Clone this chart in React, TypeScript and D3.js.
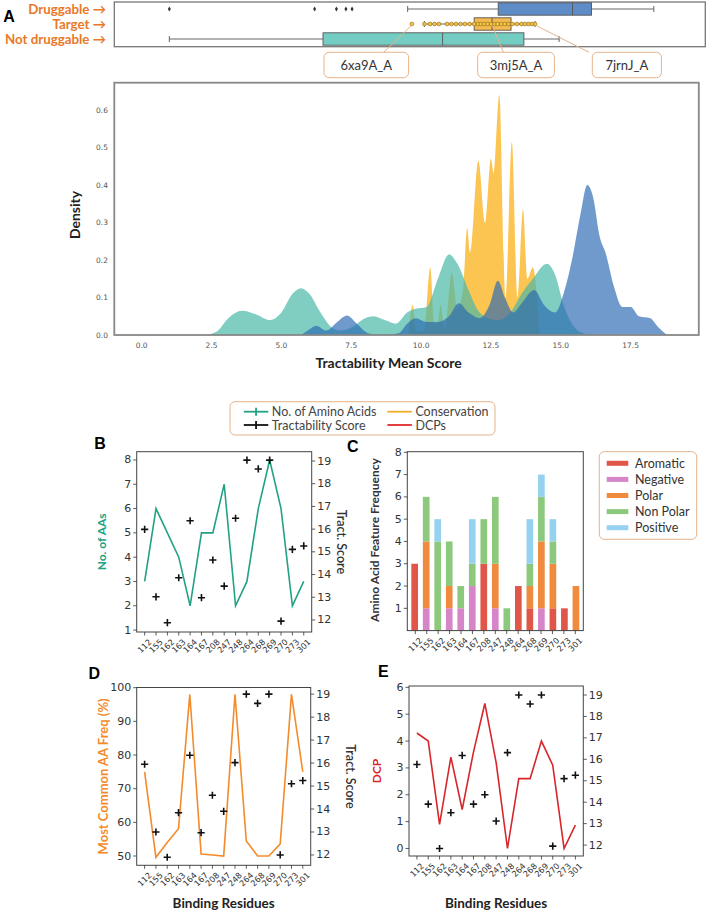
import React from 'react';
import * as d3 from 'd3';

// ---------------- DATA ----------------
const residues = ['112', '155', '162', '163', '164', '167', '208', '247', '248', '264', '268', '269', '270', '273', '301'];
const numAminoAcids = [3, 6, 5, 4, 2, 5, 5, 7, 2, 3, 6, 8, 6, 2, 3];
const tractScoreB = [15.99, 13.02, 11.88, 13.86, 16.37, 12.98, 14.64, 13.49, 16.48, 19.04, 18.65, 19.04, 11.95, 15.11, 15.26];
const mostCommonAAFreq = [75, 49.6, 54, 58.1, 98, 50.6, 50.3, 50, 98, 54.5, 50, 50, 53.6, 98, 75];
const tractScoreD = [15.95, 13.0, 11.9, 13.84, 16.34, 12.97, 14.6, 13.9, 16.02, 19.0, 18.6, 19.0, 12.0, 15.1, 15.24];
const dcpValues = [4.3, 4.0, 0.9, 3.4, 1.45, 3.6, 5.4, 3.2, 0, 2.6, 2.6, 4.0, 3.1, 0, 0.87];
const tractScoreE = [15.76, 13.91, 11.84, 13.51, 16.18, 13.91, 14.35, 13.12, 16.31, 19.0, 18.58, 19.0, 11.95, 15.1, 15.26];

const aromatic = [3, 0, 0, 0, 0, 0, 3, 0, 0, 2, 1, 0, 1, 1, 0];
const negative = [0, 1, 0, 1, 1, 2, 0, 1, 0, 0, 0, 1, 0, 0, 0];
const polar = [0, 3, 0, 1, 0, 0, 0, 2, 0, 0, 1, 3, 2, 0, 2];
const nonPolar = [0, 2, 4, 2, 1, 1, 2, 3, 1, 0, 1, 2, 1, 0, 0];
const positive = [0, 0, 1, 0, 0, 2, 0, 0, 0, 0, 2, 1, 1, 0, 0];
const featureNames = ['Aromatic', 'Negative', 'Polar', 'Non Polar', 'Positive'];
const featureColors = ['#e0574a', '#d585c8', '#f08a3c', '#8cc97c', '#96d2f0'];

// box plot: [whiskerLow, q1, median, q3, whiskerHigh]
const druggableBox = [9.52, 12.76, 15.42, 16.1, 18.33];
const druggableOutliers = [0.99, 6.19, 6.97, 7.31, 7.53];
const targetBox = [10.12, 11.9, 12.54, 13.22, 14.08];
const notDruggableBox = [0.99, 6.49, 10.77, 13.68, 14.94];
const targetPoints = [9.67, 10.12, 10.32, 10.48, 10.64, 10.93, 11.09, 11.25, 11.41, 11.57, 11.74, 11.9, 12.03, 12.14, 12.25, 12.38, 12.51, 12.63, 12.74, 12.87, 13.0, 13.13, 13.27, 13.43, 13.59, 13.71, 13.84, 13.97, 14.08];
const calloutNames = ['6xa9A_A', '3mj5A_A', '7jrnJ_A'];
const calloutValues = [9.67, 12.54, 14.08];

// densities [score, density]
const kdeNotDruggable: [number, number][] = [[2.3, 0], [2.7, 0.01], [3.1, 0.045], [3.6, 0.065], [4.1, 0.055], [4.6, 0.04], [5.0, 0.06], [5.4, 0.11], [5.7, 0.125], [6.0, 0.11], [6.4, 0.06], [6.8, 0.02], [7.1, 0.012], [7.5, 0.02], [8.0, 0.045], [8.3, 0.05], [8.7, 0.04], [9.1, 0.03], [9.5, 0.06], [9.8, 0.07], [10.2, 0.075], [10.6, 0.15], [11.0, 0.215], [11.3, 0.19], [11.7, 0.12], [12.0, 0.07], [12.4, 0.045], [12.8, 0.04], [13.2, 0.06], [13.6, 0.11], [14.0, 0.15], [14.5, 0.19], [14.8, 0.16], [15.1, 0.08], [15.4, 0.03], [15.8, 0.005], [16.2, 0]];
const kdeTarget: [number, number][] = [[9.55, 0], [9.7, 0.08], [9.82, 0.01], [10.1, 0.01], [10.33, 0.18], [10.47, 0.03], [10.6, 0.03], [10.7, 0.08], [10.85, 0.02], [11.1, 0.165], [11.3, 0.07], [11.5, 0.12], [11.65, 0.285], [11.75, 0.22], [12.05, 0.465], [12.3, 0.3], [12.5, 0.47], [12.6, 0.43], [12.8, 0.64], [13.02, 0.1], [13.25, 0.515], [13.45, 0.1], [13.65, 0.335], [13.8, 0.15], [14.0, 0.18], [14.25, 0]];
const kdeDruggable: [number, number][] = [[5.7, 0], [6.0, 0.015], [6.25, 0.025], [6.6, 0.012], [7.0, 0.035], [7.35, 0.052], [7.7, 0.03], [8.1, 0.005], [8.5, 0], [9.2, 0.005], [9.5, 0.03], [9.8, 0.045], [10.2, 0.035], [10.6, 0.035], [11.0, 0.05], [11.35, 0.085], [11.7, 0.06], [12.1, 0.045], [12.45, 0.08], [12.75, 0.145], [13.0, 0.1], [13.3, 0.06], [13.6, 0.085], [14.05, 0.12], [14.4, 0.08], [14.8, 0.06], [15.1, 0.11], [15.4, 0.2], [15.7, 0.32], [15.95, 0.4], [16.15, 0.37], [16.4, 0.26], [16.6, 0.22], [16.9, 0.13], [17.2, 0.075], [17.5, 0.075], [17.8, 0.05], [18.2, 0.045], [18.5, 0.02], [18.8, 0]];
const densityXTicks = [0, 2.5, 5, 7.5, 10, 12.5, 15, 17.5];
const densityYTicks = [0, 0.1, 0.2, 0.3, 0.4, 0.5, 0.6];

// ---------------- STYLE ----------------
const TITLE_FONT = "Lato, 'Open Sans', sans-serif";
const TICK_FONT = "'DejaVu Sans', sans-serif";
const GREEN = '#22a283';
const ORANGE = '#f38b2c';
const RED = '#d8262b';
const CALLOUT = '#e6b38a';

type PanelProps = {
  x0: number; x1: number; y0: number; y1: number;
  leftDomain: [number, number]; rightDomain: [number, number];
  leftTicks: number[]; rightTicks: number[];
  line: number[]; lineColor: string; crosses: number[];
  leftLabel: string; leftLabelSize: number; rightLabel: string | null;
  labelX: number; rightLabelX: number; xTitle: string | null;
};

function Cross({ x, y, s = 3.6 }: { x: number; y: number; s?: number }) {
  return <path d={`M${x - s},${y}H${x + s}M${x},${y - s}V${y + s}`} stroke="#111" strokeWidth={1.6} fill="none" />;
}

function XTickLabels({ scale, y }: { scale: d3.ScalePoint<string>; y: number }) {
  return (
    <g>
      {residues.map((r) => {
        const x = scale(r)!;
        return (
          <g key={r}>
            <line x1={x} x2={x} y1={y} y2={y + 3.5} stroke="#333" strokeWidth={0.8} />
            <text transform={`translate(${x + 3},${y + 6}) rotate(-45)`} textAnchor="end" dominantBaseline="hanging"
              fontFamily={TICK_FONT} fontSize={8.2} fill="#333">{r}</text>
          </g>
        );
      })}
    </g>
  );
}

function DualPanel(p: PanelProps) {
  const x = d3.scalePoint<string>().domain(residues).range([p.x0, p.x1]).padding(0.7);
  const yl = d3.scaleLinear().domain(p.leftDomain).range([p.y1, p.y0]);
  const yr = d3.scaleLinear().domain(p.rightDomain).range([p.y1, p.y0]);
  const linePath = d3.line<number>().x((_, i) => x(residues[i])!).y((d) => yl(d))(p.line) || '';
  const midY = (p.y0 + p.y1) / 2;
  return (
    <g>
      <path d={linePath} fill="none" stroke={p.lineColor} strokeWidth={1.6} />
      {p.crosses.map((v, i) => <Cross key={i} x={x(residues[i])!} y={yr(v)} />)}
      <rect x={p.x0} y={p.y0} width={p.x1 - p.x0} height={p.y1 - p.y0} fill="none" stroke="#444" strokeWidth={1} />
      {p.leftTicks.map((t) => (
        <g key={'l' + t}>
          <line x1={p.x0 - 3.5} x2={p.x0} y1={yl(t)} y2={yl(t)} stroke="#333" strokeWidth={0.8} />
          <text x={p.x0 - 5.5} y={yl(t)} textAnchor="end" dominantBaseline="central" fontFamily={TICK_FONT} fontSize={11} fill="#333">{t}</text>
        </g>
      ))}
      {p.rightTicks.map((t) => (
        <g key={'r' + t}>
          <line x1={p.x1} x2={p.x1 + 3.5} y1={yr(t)} y2={yr(t)} stroke="#333" strokeWidth={0.8} />
          <text x={p.x1 + 5.5} y={yr(t)} textAnchor="start" dominantBaseline="central" fontFamily={TICK_FONT} fontSize={11} fill="#333">{t}</text>
        </g>
      ))}
      <XTickLabels scale={x} y={p.y1} />
      <text transform={`translate(${p.labelX},${midY}) rotate(-90)`} textAnchor="middle" dominantBaseline="central"
        fontFamily={TITLE_FONT} fontWeight={700} fontSize={p.leftLabelSize} fill={p.lineColor}>{p.leftLabel}</text>
      {p.rightLabel && (
        <text transform={`translate(${p.rightLabelX},${midY}) rotate(90)`} textAnchor="middle" dominantBaseline="central"
          fontFamily={TITLE_FONT} fontWeight={600} fontSize={12.5} fill="#333">{p.rightLabel}</text>
      )}
      {p.xTitle && (
        <text x={(p.x0 + p.x1) / 2} y={908} textAnchor="middle" fontFamily={TITLE_FONT} fontWeight={700} fontSize={13.5} fill="#222">{p.xTitle}</text>
      )}
    </g>
  );
}

function PanelC() {
  const x0 = 407.3, x1 = 583.3, y0 = 451.7, y1 = 630.6;
  const x = d3.scaleBand<string>().domain(residues).range([x0, x1]).paddingInner(0.42).paddingOuter(0.35);
  const y = d3.scaleLinear().domain([0, 8]).range([y1, y0 + 0.6]);
  const rows = residues.map((r, i) => ({ r, Aromatic: aromatic[i], Negative: negative[i], Polar: polar[i], 'Non Polar': nonPolar[i], Positive: positive[i] }));
  const stack = d3.stack<any>().keys(featureNames)(rows);
  const xs = d3.scalePoint<string>().domain(residues).range([x0, x1]).padding(0.7);
  return (
    <g>
      {stack.map((layer, k) => (
        <g key={k} fill={featureColors[k]}>
          {layer.map((d, i) => d[1] > d[0] ? (
            <rect key={i} x={x(residues[i])!} width={x.bandwidth()} y={y(d[1])} height={y(d[0]) - y(d[1])} />
          ) : null)}
        </g>
      ))}
      <rect x={x0} y={y0} width={x1 - x0} height={y1 - y0} fill="none" stroke="#444" strokeWidth={1} />
      {[1, 2, 3, 4, 5, 6, 7, 8].map((t) => (
        <g key={t}>
          <line x1={x0 - 3.5} x2={x0} y1={y(t)} y2={y(t)} stroke="#333" strokeWidth={0.8} />
          <text x={x0 - 5.5} y={y(t)} textAnchor="end" dominantBaseline="central" fontFamily={TICK_FONT} fontSize={11} fill="#333">{t}</text>
        </g>
      ))}
      <XTickLabels scale={xs} y={y1} />
      <text transform={`translate(374.3,540) rotate(-90)`} textAnchor="middle" dominantBaseline="central"
        fontFamily={TITLE_FONT} fontWeight={700} fontSize={12} fill="#333">Amino Acid Feature Frequency</text>
      <rect x={599.3} y={451.7} width={97.4} height={87.6} rx={5} fill="#fff" stroke={CALLOUT} strokeWidth={1} />
      {featureNames.map((n, i) => (
        <g key={n}>
          <rect x={606.7} y={463.3 + i * 16.1 - 2.5} width={21.6} height={5} fill={featureColors[i]} />
          <text x={635} y={463.3 + i * 16.1} dominantBaseline="central" fontFamily={TITLE_FONT} fontSize={12.5} fill="#333">{n}</text>
        </g>
      ))}
    </g>
  );
}

function DensityPanel() {
  const x = d3.scaleLinear().domain([-0.98, 19.94]).range([114.3, 698.8]);
  const y = d3.scaleLinear().domain([0, 0.673]).range([335, 82.7]);
  const area = d3.area<[number, number]>().x((d) => x(d[0])).y0(y(0)).y1((d) => y(d[1])).curve(d3.curveMonotoneX);
  return (
    <g>
      <defs>
        <clipPath id="dclip"><rect x={114.3} y={82.7} width={584.5} height={252.3} /></clipPath>
      </defs>
      <g clipPath="url(#dclip)">
        <path d={area(kdeTarget) || ''} fill="#fbb526" fillOpacity={0.8} />
        <path d={area(kdeNotDruggable) || ''} fill="#4ab8a6" fillOpacity={0.7} />
        <path d={area(kdeDruggable) || ''} fill="#2b6ab2" fillOpacity={0.68} />
      </g>
      <rect x={114.3} y={82.7} width={584.5} height={252.3} fill="none" stroke="#888" strokeWidth={1.8} />
      {densityYTicks.map((t) => (
        <text key={t} x={108} y={y(t)} textAnchor="end" dominantBaseline="central" fontFamily={TICK_FONT} fontSize={7.5} fill="#555">{t.toFixed(1)}</text>
      ))}
      {densityXTicks.map((t) => (
        <text key={t} x={x(t)} y={345} textAnchor="middle" dominantBaseline="central" fontFamily={TICK_FONT} fontSize={7.5} fill="#555">{t.toFixed(1)}</text>
      ))}
      <text transform="translate(74,215) rotate(-90)" textAnchor="middle" dominantBaseline="central" fontFamily={TITLE_FONT} fontWeight={700} fontSize={14} fill="#222">Density</text>
      <text x={388.6} y={362} textAnchor="middle" dominantBaseline="central" fontFamily={TITLE_FONT} fontWeight={700} fontSize={14} fill="#222">Tractability Mean Score</text>
    </g>
  );
}

function BoxRow({ stats, cy, fill, x }: { stats: number[]; cy: number; fill: string; x: d3.ScaleLinear<number, number> }) {
  const h = 12.4;
  return (
    <g stroke="#555" strokeWidth={0.9}>
      <line x1={x(stats[0])} x2={x(stats[1])} y1={cy} y2={cy} />
      <line x1={x(stats[3])} x2={x(stats[4])} y1={cy} y2={cy} />
      <line x1={x(stats[0])} x2={x(stats[0])} y1={cy - 3} y2={cy + 3} />
      <line x1={x(stats[4])} x2={x(stats[4])} y1={cy - 3} y2={cy + 3} />
      <rect x={x(stats[1])} y={cy - h / 2} width={x(stats[3]) - x(stats[1])} height={h} fill={fill} />
      <line x1={x(stats[2])} x2={x(stats[2])} y1={cy - h / 2} y2={cy + h / 2} />
    </g>
  );
}

function BoxPanel() {
  const x = d3.scaleLinear().domain([-0.98, 19.94]).range([114.3, 698.8]);
  const rowY = [9, 24, 39];
  const labels = ['Druggable \u2192', 'Target \u2192', 'Not druggable \u2192'];
  const boxX = [[324, 408.6], [477.7, 554.4], [592.3, 661.4]];
  const anchorX = [383.7, 503.4, 589];
  return (
    <g>
      <rect x={114.3} y={2} width={591} height={44.7} fill="none" stroke="#777" strokeWidth={1.3} />
      <BoxRow stats={druggableBox} cy={rowY[0]} fill="#5d8cc6" x={x} />
      {druggableOutliers.map((v, i) => (
        <path key={i} d={`M${x(v)},${rowY[0] - 2.6}L${x(v) + 1.5},${rowY[0]}L${x(v)},${rowY[0] + 2.6}L${x(v) - 1.5},${rowY[0]}Z`} fill="#333" />
      ))}
      <BoxRow stats={notDruggableBox} cy={rowY[2]} fill="#74cdc2" x={x} />
      <BoxRow stats={targetBox} cy={rowY[1]} fill="#f6bb4e" x={x} />
      {targetPoints.map((v, i) => (
        <circle key={i} cx={x(v)} cy={rowY[1]} r={1.9} fill="#f5c445" stroke="#8a6a1a" strokeWidth={0.6} />
      ))}
      {labels.map((l, i) => (
        <text key={l} x={106} y={rowY[i]} textAnchor="end" dominantBaseline="central" fontFamily={TITLE_FONT} fontWeight={700} fontSize={13.3} fill="#e8792a">{l}</text>
      ))}
      <text x={9} y={16} textAnchor="middle" dominantBaseline="central" fontFamily="'Liberation Sans', Arial, sans-serif" fontWeight={700} fontSize={16} fill="#000">A</text>
      {calloutNames.map((n, i) => (
        <g key={n}>
          <line x1={anchorX[i]} y1={52.3} x2={x(calloutValues[i])} y2={rowY[1] + 1} stroke={CALLOUT} strokeWidth={1} />
          <rect x={boxX[i][0]} y={52.3} width={boxX[i][1] - boxX[i][0]} height={25.4} rx={5} fill="#fff" stroke={CALLOUT} strokeWidth={1} />
          <text x={(boxX[i][0] + boxX[i][1]) / 2} y={65} textAnchor="middle" dominantBaseline="central" fontFamily={TITLE_FONT} fontSize={13} fill="#333">{n}</text>
        </g>
      ))}
    </g>
  );
}

function MainLegend() {
  const items = [
    { label: 'No. of Amino Acids', color: GREEN, cross: true, x: 243.8, y: 411.7 },
    { label: 'Tractability Score', color: '#111', cross: true, x: 243.8, y: 425 },
    { label: 'Conservation', color: '#f5ad2a', cross: false, x: 387.4, y: 411.7 },
    { label: 'DCPs', color: '#e02a2a', cross: false, x: 387.4, y: 425 },
  ];
  return (
    <g>
      <rect x={230} y={401.7} width={265} height={33.3} rx={5} fill="#fff" stroke={CALLOUT} strokeWidth={1} />
      {items.map((it) => (
        <g key={it.label}>
          <line x1={it.x} x2={it.x + 24.5} y1={it.y} y2={it.y} stroke={it.color} strokeWidth={1.8} />
          {it.cross && <line x1={it.x + 12.25} x2={it.x + 12.25} y1={it.y - 4} y2={it.y + 4} stroke={it.color} strokeWidth={1.8} />}
          <text x={it.x + 28} y={it.y} dominantBaseline="central" fontFamily={TITLE_FONT} fontSize={12.5} fill="#444">{it.label}</text>
        </g>
      ))}
    </g>
  );
}

function Letter({ x, y, t }: { x: number; y: number; t: string }) {
  return <text x={x} y={y} textAnchor="middle" dominantBaseline="central" fontFamily="'Liberation Sans', Arial, sans-serif" fontWeight={700} fontSize={16} fill="#000">{t}</text>;
}

export default function App() {
  return (
    <svg width={708} height={914} viewBox="0 0 708 914" style={{ position: 'absolute', left: 0, top: 0, background: '#fff' }}>
      <rect width={708} height={914} fill="#fff" />
      <BoxPanel />
      <DensityPanel />
      <MainLegend />
      <Letter x={100} y={443} t="B" />
      <Letter x={352.7} y={446.7} t="C" />
      <Letter x={94.3} y={673} t="D" />
      <Letter x={383.3} y={671.7} t="E" />
      <DualPanel x0={136.7} x1={311.7} y0={451.7} y1={632} leftDomain={[0.92, 8.34]} rightDomain={[11.47, 19.41]}
        leftTicks={[1, 2, 3, 4, 5, 6, 7, 8]} rightTicks={[12, 13, 14, 15, 16, 17, 18, 19]}
        line={numAminoAcids} lineColor={GREEN} crosses={tractScoreB} leftLabel="No. of AAs" leftLabelSize={12} rightLabel="Tract. Score"
        labelX={101.7} rightLabelX={341.7} xTitle={null} />
      <PanelC />
      <DualPanel x0={136.7} x1={310.7} y0={687.5} y1={865.3} leftDomain={[47.24, 100.06]} rightDomain={[11.55, 19.29]}
        leftTicks={[50, 60, 70, 80, 90, 100]} rightTicks={[12, 13, 14, 15, 16, 17, 18, 19]}
        line={mostCommonAAFreq} lineColor={ORANGE} crosses={tractScoreD} leftLabel="Most Common AA Freq (%)" leftLabelSize={13} rightLabel="Tract. Score"
        labelX={103.3} rightLabelX={350} xTitle="Binding Residues" />
      <DualPanel x0={409} x1={583.3} y0={686} y1={856} leftDomain={[-0.28, 6.05]} rightDomain={[11.49, 19.42]}
        leftTicks={[0, 1, 2, 3, 4, 5, 6]} rightTicks={[12, 13, 14, 15, 16, 17, 18, 19]}
        line={dcpValues} lineColor={RED} crosses={tractScoreE} leftLabel="DCP" leftLabelSize={12} rightLabel={null}
        labelX={376.7} rightLabelX={700} xTitle="Binding Residues" />
    </svg>
  );
}
